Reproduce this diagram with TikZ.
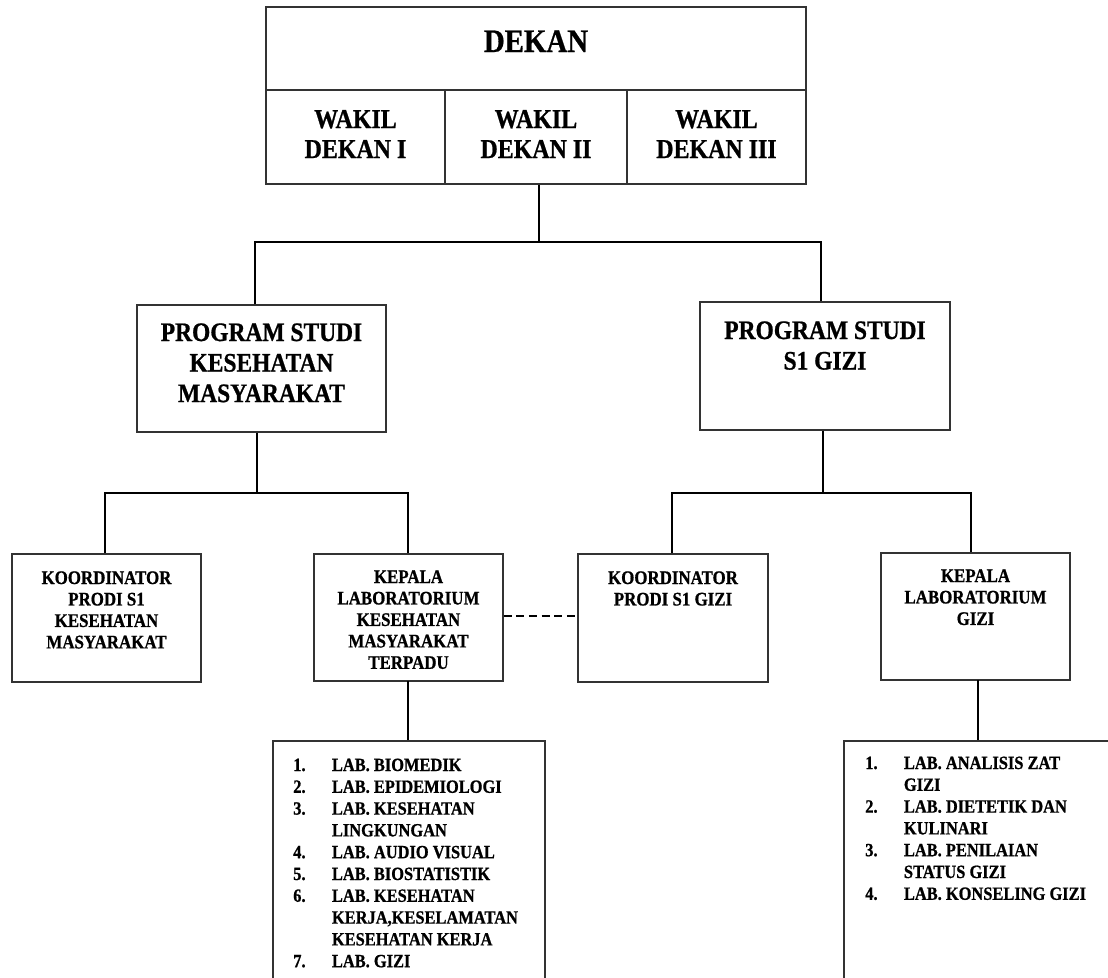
\documentclass[tikz,border=0pt]{standalone}
\usepackage{fontspec}
\setmainfont[FakeStretch=0.88, BoldFeatures={FakeBold=0.8}]{Liberation Serif}
\usetikzlibrary{fit}
\newcommand\lnum[1]{\makebox[29pt][l]{#1}}
\begin{document}
\begin{tikzpicture}[x=0.75pt,y=-0.75pt,
  box/.style={draw=black!80, line width=0.9pt, inner sep=0pt, rectangle},
  conn/.style={line width=1.9pt, black},
  lbl/.style={inner sep=0pt, anchor=base},
  lst/.style={inner sep=0pt, anchor=base west, font=\fontsize{14}{16.35}\selectfont\bfseries},
  fdekan/.style={font=\fontsize{24.6}{29}\selectfont\bfseries},
  fwakil/.style={font=\fontsize{20.4}{22.5}\selectfont\bfseries},
  fprog/.style={font=\fontsize{20}{22.9}\selectfont\bfseries},
  fsmall/.style={font=\fontsize{14.4}{16.1}\selectfont\bfseries}]
\clip (0,0) rectangle (1108,978);
\fill[white] (0,0) rectangle (1108,978);

% top block
\node[box, fit={(266,7) (806,90)}] (dekan) {};
\node[box, fit={(266,90) (445,184)}] (w1) {};
\node[box, fit={(445,90) (627,184)}] (w2) {};
\node[box, fit={(627,90) (806,184)}] (w3) {};
\node[lbl, fdekan] (tdekan) at (536,52) {DEKAN};
\node[lbl, fwakil] (tw1) at (355.5,128) {\begin{tabular}[t]{@{}c@{}}WAKIL\\DEKAN I\end{tabular}};
\node[lbl, fwakil] (tw2) at (536,128) {\begin{tabular}[t]{@{}c@{}}WAKIL\\DEKAN II\end{tabular}};
\node[lbl, fwakil] (tw3) at (716.5,128) {\begin{tabular}[t]{@{}c@{}}WAKIL\\DEKAN III\end{tabular}};

% program studi
\node[box, fit={(137,305) (386,432)}] (psk) {};
\node[box, fit={(700,302) (950,430)}] (psg) {};
\node[lbl, fprog] (tpsk) at (261.5,341) {\begin{tabular}[t]{@{}c@{}}PROGRAM STUDI\\KESEHATAN\\MASYARAKAT\end{tabular}};
\node[lbl, fprog] (tpsg) at (825,339) {\begin{tabular}[t]{@{}c@{}}PROGRAM STUDI\\S1 GIZI\end{tabular}};

% lower boxes
\node[box, fit={(12,554) (201,682)}] (kk) {};
\node[box, fit={(314,554) (503,681)}] (lk) {};
\node[box, fit={(578,554) (768,682)}] (kg) {};
\node[box, fit={(881,553) (1070,680)}] (lg) {};
\node[lbl, fsmall] (tkk) at (106.5,584) {\begin{tabular}[t]{@{}c@{}}KOORDINATOR\\PRODI S1\\KESEHATAN\\MASYARAKAT\end{tabular}};
\node[lbl, fsmall] (tlk) at (408.5,583) {\begin{tabular}[t]{@{}c@{}}KEPALA\\LABORATORIUM\\KESEHATAN\\MASYARAKAT\\TERPADU\end{tabular}};
\node[lbl, fsmall] (tkg) at (673,584) {\begin{tabular}[t]{@{}c@{}}KOORDINATOR\\PRODI S1 GIZI\end{tabular}};
\node[lbl, fsmall] (tlg) at (975.5,582) {\begin{tabular}[t]{@{}c@{}}KEPALA\\LABORATORIUM\\GIZI\end{tabular}};

% list boxes
\node[box, fit={(273,741) (545,1010)}] (l1) {};
\node[box, fit={(844,741) (1140,1010)}] (l2) {};
\node[lst] (tl1) at (293,771) {\begin{tabular}[t]{@{}l@{}l@{}}
\lnum{1.} & LAB. BIOMEDIK\\
\lnum{2.} & LAB. EPIDEMIOLOGI\\
\lnum{3.} & LAB. KESEHATAN\\
 & LINGKUNGAN\\
\lnum{4.} & LAB. AUDIO VISUAL\\
\lnum{5.} & LAB. BIOSTATISTIK\\
\lnum{6.} & LAB. KESEHATAN\\
 & KERJA,KESELAMATAN\\
 & KESEHATAN KERJA\\
\lnum{7.} & LAB. GIZI
\end{tabular}};
\node[lst] (tl2) at (865,769) {\begin{tabular}[t]{@{}l@{}l@{}}
\lnum{1.} & LAB. ANALISIS ZAT\\
 & GIZI\\
\lnum{2.} & LAB. DIETETIK DAN\\
 & KULINARI\\
\lnum{3.} & LAB. PENILAIAN\\
 & STATUS GIZI\\
\lnum{4.} & LAB. KONSELING GIZI
\end{tabular}};

% connectors
\coordinate (busT) at (539,242);
\coordinate (busL) at (255,242);
\coordinate (busR) at (821,242);
\draw[conn] (w2.south -| busT) -- (busT);
\draw[conn] (psk.north -| busL) -- (busL) -- (busR) -- (psg.north -| busR);

\coordinate (bkT) at (257,493);
\coordinate (bkL) at (105,493);
\coordinate (bkR) at (408,493);
\draw[conn] (psk.south -| bkT) -- (bkT);
\draw[conn] (kk.north -| bkL) -- (bkL) -- (bkR) -- (lk.north -| bkR);

\coordinate (bgT) at (823,493);
\coordinate (bgL) at (672,493);
\coordinate (bgR) at (971,493);
\draw[conn] (psg.south -| bgT) -- (bgT);
\draw[conn] (kg.north -| bgL) -- (bgL) -- (bgR) -- (lg.north -| bgR);

\draw[line width=1.5pt, dash pattern=on 6pt off 3.5pt] (lk.east |- 0,616) -- (kg.west |- 0,616);

\coordinate (dl1) at (408,681);
\coordinate (dl2) at (978,680);
\draw[conn] (dl1) -- (dl1 |- l1.north);
\draw[conn] (dl2) -- (dl2 |- l2.north);
\end{tikzpicture}
\end{document}
